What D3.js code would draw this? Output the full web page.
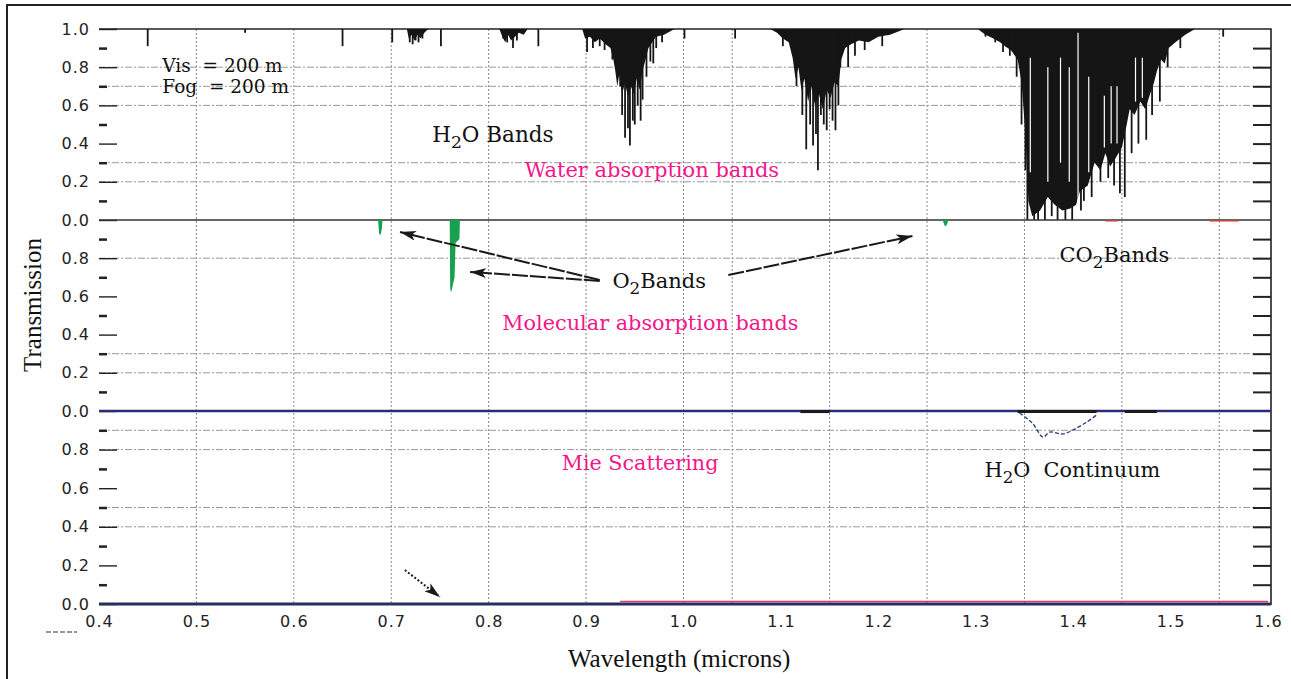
<!DOCTYPE html>
<html>
<head>
<meta charset="utf-8">
<script src="https://cdn.jsdelivr.net/npm/d3@7/dist/d3.min.js"></script>
<style>
  body { margin: 0; background: #fff; }
  .axis text { font-family: 'DejaVu Sans', sans-serif; font-size: 16px; fill: #222; letter-spacing: 1px; }
  .axis .domain { display: none; }
  .serif { font-family: 'DejaVu Serif', serif; }
</style>
</head>
<body>
<svg id="chart"></svg>
<script>
// wavelength ticks (microns)
const waveTicks = [0.4, 0.5, 0.6, 0.7, 0.8, 0.9, 1.0, 1.1, 1.2, 1.3, 1.4, 1.5, 1.6];
const vGrid = [0.5, 0.6, 0.7, 0.8, 0.9, 1.0, 1.05, 1.15, 1.25, 1.35, 1.45, 1.55];
// per panel: water / molecular / mie
const yLabels = [[1.0, 0.8, 0.6, 0.4, 0.2, 0.0], [0.8, 0.6, 0.4, 0.2, 0.0], [0.8, 0.6, 0.4, 0.2, 0.0]];
const yMinor = [0.9, 0.7, 0.5, 0.3, 0.1];
const yRight = [0.9, 0.8, 0.7, 0.6, 0.5, 0.4, 0.3, 0.2, 0.1];
const hGrid = [[0.8, 0.7, 0.6, 0.3, 0.2], [0.8, 0.3, 0.2], [0.9, 0.8, 0.5, 0.4]];

// H2O band envelopes [wavelength, transmission]
const waterEnvA = [[0.716, 1], [0.718, 0.95], [0.721, 0.97], [0.724, 0.94], [0.727, 0.97], [0.730, 0.95], [0.734, 0.98], [0.738, 1]];
const waterEnvB = [[0.811, 1], [0.814, 0.96], [0.817, 0.93], [0.820, 0.97], [0.823, 0.94], [0.827, 0.96], [0.831, 0.98],
  [0.836, 0.97], [0.840, 1]];
const waterEnv1 = [[0.896, 1], [0.899, 0.95], [0.904, 0.96], [0.909, 0.93], [0.914, 0.95], [0.920, 0.92], [0.925, 0.90],
  [0.928, 0.84], [0.930, 0.78], [0.932, 0.70], [0.934, 0.76], [0.937, 0.66], [0.940, 0.72], [0.943, 0.64], [0.946, 0.70],
  [0.949, 0.66], [0.952, 0.74], [0.955, 0.68], [0.958, 0.78], [0.961, 0.84], [0.964, 0.90], [0.968, 0.93], [0.972, 0.96],
  [0.980, 0.97], [0.987, 0.99], [0.991, 1]];
const waterEnv2 = [[1.089, 1], [1.096, 0.98], [1.102, 0.95], [1.108, 0.93], [1.112, 0.85], [1.115, 0.74], [1.118, 0.80],
  [1.121, 0.68], [1.124, 0.74], [1.128, 0.62], [1.131, 0.70], [1.135, 0.60], [1.139, 0.66], [1.143, 0.58], [1.147, 0.68],
  [1.151, 0.64], [1.155, 0.72], [1.159, 0.70], [1.162, 0.84], [1.166, 0.90], [1.172, 0.92], [1.180, 0.94], [1.190, 0.93],
  [1.200, 0.96], [1.212, 0.97], [1.227, 1]];
const waterEnv3 = [[1.302, 1], [1.310, 0.97], [1.318, 0.95], [1.325, 0.93], [1.330, 0.91], [1.336, 0.89], [1.343, 0.84],
  [1.347, 0.72], [1.351, 0.45], [1.354, 0.10], [1.358, 0.02], [1.366, 0.05], [1.374, 0.12], [1.381, 0.08], [1.389, 0.05],
  [1.397, 0.06], [1.403, 0.08], [1.407, 0.15], [1.415, 0.18], [1.422, 0.30], [1.428, 0.26], [1.433, 0.35], [1.438, 0.28],
  [1.443, 0.32], [1.450, 0.38], [1.455, 0.50], [1.458, 0.58], [1.463, 0.55], [1.469, 0.62], [1.474, 0.58], [1.479, 0.66],
  [1.483, 0.72], [1.486, 0.78], [1.490, 0.84], [1.494, 0.82], [1.498, 0.90], [1.505, 0.93], [1.515, 0.97], [1.525, 1]];

// individual H2O lines [wavelength, minimum transmission]
const waterLines = [
  [0.450, 0.91], [0.550, 0.98], [0.650, 0.91], [0.701, 0.93], [0.719, 0.93], [0.722, 0.92], [0.725, 0.94], [0.728, 0.93],
  [0.732, 0.95], [0.751, 0.91], [0.815, 0.95], [0.819, 0.93], [0.825, 0.90], [0.829, 0.94], [0.851, 0.91],
  [0.901, 0.88], [0.907, 0.90], [0.914, 0.91], [0.919, 0.89], [0.927, 0.84], [0.935, 0.70], [0.937, 0.55], [0.940, 0.43],
  [0.943, 0.48], [0.945, 0.39], [0.948, 0.52], [0.950, 0.50], [0.953, 0.60], [0.956, 0.52], [0.958, 0.63], [0.962, 0.75],
  [0.966, 0.83], [0.969, 0.82], [0.972, 0.90], [0.978, 0.93], [1.001, 0.95], [1.053, 0.95],
  [1.102, 0.91], [1.116, 0.70], [1.122, 0.55], [1.126, 0.37], [1.130, 0.50], [1.133, 0.39], [1.136, 0.45], [1.138, 0.26],
  [1.141, 0.55], [1.144, 0.50], [1.147, 0.47], [1.150, 0.58], [1.153, 0.52], [1.156, 0.47], [1.159, 0.60], [1.161, 0.80],
  [1.169, 0.80], [1.176, 0.86], [1.186, 0.89], [1.204, 0.91],
  [1.310, 0.96], [1.320, 0.93], [1.328, 0.88], [1.335, 0.86], [1.342, 0.75], [1.347, 0.50], [1.351, 0.26], [1.353, 0],
  [1.360, 0], [1.364, 0], [1.371, 0], [1.378, 0.02], [1.384, 0], [1.392, 0], [1.399, 0], [1.408, 0.05], [1.411, 0.10],
  [1.419, 0.12], [1.428, 0.20], [1.436, 0.22], [1.442, 0.18], [1.448, 0.14], [1.453, 0.12], [1.460, 0.35], [1.467, 0.40],
  [1.475, 0.42], [1.481, 0.55], [1.489, 0.62], [1.497, 0.80], [1.510, 0.90], [1.554, 0.96]];

// open gaps inside the 1.38 band [wavelength, upper T, lower T]
const waterGaps = [[1.356, 0.85, 0.25], [1.374, 0.80, 0.20], [1.387, 0.85, 0.30], [1.396, 0.80, 0.20], [1.405, 0.98, 0.05],
  [1.416, 0.75, 0.25], [1.432, 0.65, 0.38], [1.439, 0.70, 0.40], [1.445, 0.70, 0.40], [1.464, 0.85, 0.62],
  [1.471, 0.85, 0.64]];

// O2 bands
const o2BandB = [[0.6865, 1], [0.6875, 0.93], [0.689, 0.92], [0.6905, 0.96], [0.691, 1]];
const o2BandA = [[0.760, 1], [0.7605, 0.64], [0.7615, 0.62], [0.765, 0.70], [0.766, 0.88], [0.770, 0.90], [0.7705, 1]];
const o2Band127 = [[1.266, 1], [1.268, 0.97], [1.270, 0.97], [1.272, 1]];
const co2Marks = [[1.433, 1.446], [1.540, 1.570]];

// H2O continuum and Mie
const continuum = [[1.345, 0.99], [1.358, 0.938], [1.369, 0.865], [1.376, 0.891], [1.389, 0.881], [1.400, 0.902],
  [1.414, 0.943], [1.424, 0.979]];
const continuumSegs = [[1.12, 1.15], [1.343, 1.424], [1.453, 1.486]];
const mieRed = [[0.935, 0.013], [1.6, 0.013]];

const width = 1291, height = 679;
const left = 99, right = 1271;

const svg = d3.select('#chart')
  .attr('width', width)
  .attr('height', height);

const x = d3.scaleLinear().domain([0.4, 1.6]).range([99, 1268]);
const panels = [
  d3.scaleLinear().domain([0, 1]).range([220, 29]),
  d3.scaleLinear().domain([0, 1]).range([411, 220]),
  d3.scaleLinear().domain([0, 1]).range([604, 411]),
];

// outer border
svg.append('path')
  .attr('d', `M7,${height} L7,5 L${width},5`)
  .attr('fill', 'none')
  .attr('stroke', '#222')
  .attr('stroke-width', 2);

// grid
svg.append('g')
  .selectAll('line')
  .data(vGrid)
  .join('line')
    .attr('x1', d => x(d)).attr('x2', d => x(d))
    .attr('y1', 29).attr('y2', 604)
    .attr('stroke', '#888')
    .attr('stroke-width', 1)
    .attr('stroke-dasharray', '2,2');

panels.forEach((y, i) => {
  svg.append('g')
    .selectAll('line')
    .data(hGrid[i])
    .join('line')
      .attr('x1', left).attr('x2', right)
      .attr('y1', d => y(d)).attr('y2', d => y(d))
      .attr('stroke', '#999')
      .attr('stroke-width', 1)
      .attr('stroke-dasharray', '7,2,2,2');
});

// axes
panels.forEach((y, i) => {
  svg.append('g')
    .attr('class', 'axis')
    .attr('transform', `translate(${left},0)`)
    .call(d3.axisLeft(y).tickValues(yLabels[i]).tickFormat(d3.format('.1f'))
      .tickSizeInner(-18).tickSizeOuter(0).tickPadding(9))
    .call(g => g.selectAll('line').attr('stroke', '#222').attr('stroke-width', 1.4));

  svg.append('g')
    .attr('class', 'axis')
    .attr('transform', `translate(${left},0)`)
    .call(d3.axisLeft(y).tickValues(yMinor).tickFormat('').tickSizeInner(-8).tickSizeOuter(0))
    .call(g => g.selectAll('line').attr('stroke', '#222').attr('stroke-width', 2.5));

  svg.append('g')
    .attr('class', 'axis')
    .attr('transform', `translate(${right},0)`)
    .call(d3.axisRight(y).tickValues(yRight).tickFormat('').tickSizeInner(-18).tickSizeOuter(0))
    .call(g => g.selectAll('line').attr('stroke', '#222').attr('stroke-width', 2));
});

svg.append('g')
  .attr('class', 'axis')
  .attr('transform', 'translate(0,604)')
  .call(d3.axisBottom(x).tickValues(waveTicks).tickFormat(d3.format('.1f')).tickSize(0).tickPadding(12));

// frame
svg.append('path')
  .attr('d', `M${left},29 L${right},29 L${right},605`)
  .attr('fill', 'none')
  .attr('stroke', '#222')
  .attr('stroke-width', 1.6);

// H2O bands (top panel)
const yW = panels[0];
const envArea = d3.area()
  .x(d => x(d[0]))
  .y0(yW(1))
  .y1(d => yW(d[1]));

svg.append('g')
  .selectAll('path')
  .data([waterEnvA, waterEnvB, waterEnv1, waterEnv2, waterEnv3])
  .join('path')
    .attr('d', envArea)
    .attr('fill', '#151515');

svg.append('g')
  .selectAll('line')
  .data(waterLines)
  .join('line')
    .attr('x1', d => x(d[0])).attr('x2', d => x(d[0]))
    .attr('y1', yW(1)).attr('y2', d => yW(d[1]))
    .attr('stroke', '#151515')
    .attr('stroke-width', 1.8);

svg.append('g')
  .selectAll('line')
  .data(waterGaps)
  .join('line')
    .attr('x1', d => x(d[0])).attr('x2', d => x(d[0]))
    .attr('y1', d => yW(d[1])).attr('y2', d => yW(d[2]))
    .attr('stroke', '#fff')
    .attr('stroke-width', 1.2);

// panel baselines
svg.append('line')
  .attr('x1', left).attr('x2', right)
  .attr('y1', yW(0)).attr('y2', yW(0))
  .attr('stroke', '#333').attr('stroke-width', 1.6);

// O2 bands (middle panel)
const yM = panels[1];
const o2Area = d3.area()
  .x(d => x(d[0]))
  .y0(yM(1))
  .y1(d => yM(d[1]));

svg.append('g')
  .selectAll('path')
  .data([o2BandB, o2BandA, o2Band127])
  .join('path')
    .attr('d', o2Area)
    .attr('fill', '#17a04f');

svg.append('g')
  .selectAll('line')
  .data(co2Marks)
  .join('line')
    .attr('x1', d => x(d[0])).attr('x2', d => x(d[1]))
    .attr('y1', yM(0.995)).attr('y2', yM(0.995))
    .attr('stroke', '#e0403a').attr('stroke-width', 1.2);

svg.append('line')
  .attr('x1', left).attr('x2', right)
  .attr('y1', yM(0)).attr('y2', yM(0))
  .attr('stroke', '#2a2c78').attr('stroke-width', 2.6);

// H2O continuum / Mie (bottom panel)
const yB = panels[2];
svg.append('g')
  .selectAll('line')
  .data(continuumSegs)
  .join('line')
    .attr('x1', d => x(d[0])).attr('x2', d => x(d[1]))
    .attr('y1', yB(0.997)).attr('y2', yB(0.997))
    .attr('stroke', '#1a1a1a').attr('stroke-width', 3);

svg.append('path')
  .datum(continuum)
  .attr('d', d3.line().x(d => x(d[0])).y(d => yB(d[1])).curve(d3.curveCatmullRom))
  .attr('fill', 'none')
  .attr('stroke', '#2a3c7a')
  .attr('stroke-width', 1.3)
  .attr('stroke-dasharray', '4,2');

svg.append('line')
  .attr('x1', left).attr('x2', right)
  .attr('y1', yB(0)).attr('y2', yB(0))
  .attr('stroke', '#2a2c60').attr('stroke-width', 3);

svg.append('path')
  .datum(mieRed)
  .attr('d', d3.line().x(d => x(d[0])).y(d => yB(d[1])))
  .attr('stroke', '#d4406a').attr('stroke-width', 1.4);

// arrows
const defs = svg.append('defs');
defs.append('marker')
  .attr('id', 'head')
  .attr('viewBox', '0 0 16 10')
  .attr('refX', 16).attr('refY', 5)
  .attr('markerWidth', 16).attr('markerHeight', 10)
  .attr('markerUnits', 'userSpaceOnUse')
  .attr('orient', 'auto')
  .append('path')
    .attr('d', 'M0,0 L16,5 L0,10 L4,5 Z')
    .attr('fill', '#1a1a1a');

const arrows = [
  { p: 1, from: [0.914, 0.686], to: [0.709, 0.937], dash: '16,2' },
  { p: 1, from: [0.914, 0.681], to: [0.781, 0.728], dash: '16,2' },
  { p: 1, from: [1.046, 0.712], to: [1.235, 0.916], dash: '16,2' },
  { p: 2, from: [0.714, 0.176], to: [0.750, 0.036], dash: '2,2' },
];
svg.append('g')
  .selectAll('line')
  .data(arrows)
  .join('line')
    .attr('x1', d => x(d.from[0])).attr('y1', d => panels[d.p](d.from[1]))
    .attr('x2', d => x(d.to[0])).attr('y2', d => panels[d.p](d.to[1]))
    .attr('stroke', '#1a1a1a')
    .attr('stroke-width', 2)
    .attr('stroke-dasharray', d => d.dash)
    .attr('marker-end', 'url(#head)');

// annotations: [panel, wavelength, T, parts, size, colour]
const notes = [
  [0, 0.465, 0.775, [['Vis  = 200 m']], 18.5, '#111'],
  [0, 0.465, 0.665, [['Fog  = 200 m']], 18.5, '#111'],
  [0, 0.742, 0.408, [['H'], ['2', 1], ['O Bands']], 21.5, '#111'],
  [0, 0.837, 0.225, [['Water absorption bands']], 21, '#f5168a'],
  [1, 0.927, 0.644, [['O'], ['2', 1], ['Bands']], 21, '#111'],
  [1, 1.386, 0.780, [['CO'], ['2', 1], ['Bands']], 21, '#111'],
  [1, 0.814, 0.424, [['Molecular absorption bands']], 20.8, '#f5168a'],
  [2, 0.875, 0.694, [['Mie Scattering']], 20.7, '#f5168a'],
  [2, 1.309, 0.658, [['H'], ['2', 1], ['O  Continuum']], 20.8, '#111'],
];

notes.forEach(([p, w, t, parts, size, colour]) => {
  const text = svg.append('text')
    .attr('class', 'serif')
    .attr('x', x(w))
    .attr('y', panels[p](t))
    .attr('font-size', size)
    .attr('fill', colour)
    .style('white-space', 'pre');
  let shifted = 0;
  parts.forEach(([s, sub]) => {
    const dy = sub ? 6 : -shifted;
    shifted = sub ? 6 : 0;
    text.append('tspan')
      .attr('dy', dy)
      .attr('font-size', sub ? size * 0.8 : size)
      .text(s);
  });
});

// axis titles
svg.append('text')
  .attr('transform', 'translate(41,305) rotate(-90)')
  .attr('text-anchor', 'middle')
  .attr('font-family', 'Liberation Serif, serif')
  .attr('font-size', 25)
  .attr('fill', '#111')
  .text('Transmission');

svg.append('text')
  .attr('x', 568)
  .attr('y', 667)
  .attr('font-family', 'Liberation Serif, serif')
  .attr('font-size', 25)
  .attr('fill', '#111')
  .text('Wavelength (microns)');

// stray mark at lower left of the original scan
svg.append('line')
  .attr('x1', 46).attr('x2', 77)
  .attr('y1', 632).attr('y2', 632)
  .attr('stroke', '#999')
  .attr('stroke-width', 2)
  .attr('stroke-dasharray', '5,2');
</script>
</body>
</html>
